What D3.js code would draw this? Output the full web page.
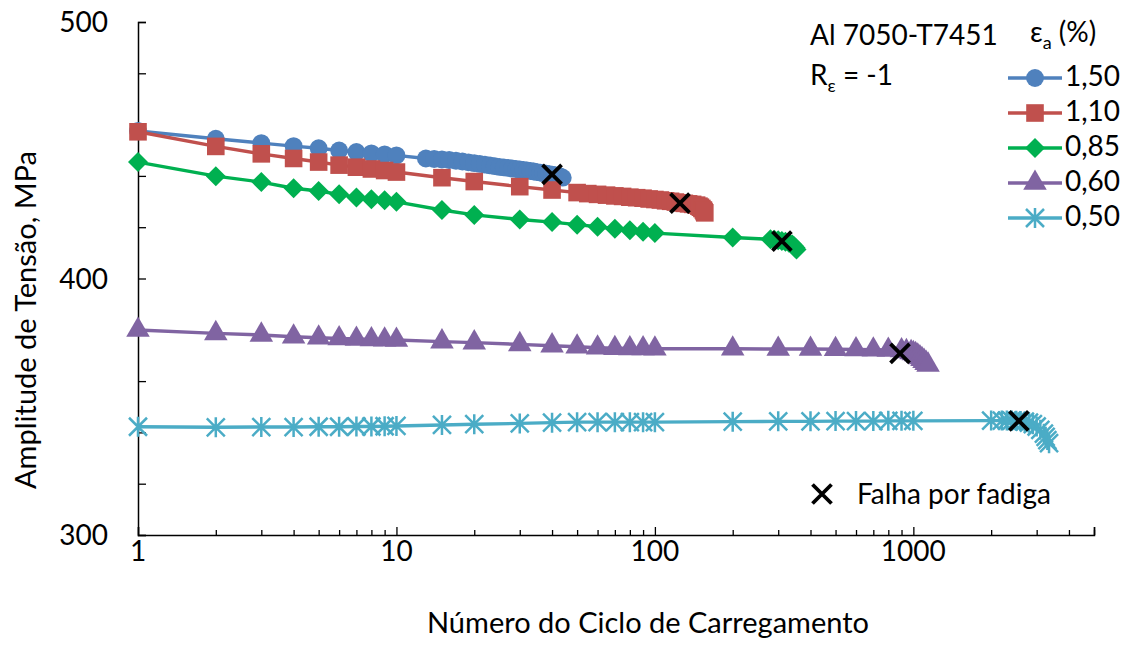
<!DOCTYPE html>
<html>
<head>
<meta charset="utf-8">
<script src="https://cdn.jsdelivr.net/npm/d3@7"></script>
<style>
  body { margin: 0; background: #fff; }
  svg text { font-family: Lato, "Open Sans", sans-serif; fill: #000; }
</style>
</head>
<body>
<svg id="chart" width="1130" height="646"></svg>
<script>
// data: [cycle, stress amplitude in MPa]
var seriesNames = ["1,50", "1,10", "0,85", "0,60", "0,50"];
var seriesColors = ["#4F81BD", "#C0504D", "#00B050", "#8064A2", "#4BACC6"];
var seriesShapes = ["circle", "square", "diamond", "triangle", "star"];

var s150 = [[1,457.5],[2,454.5],[3,452.8],[4,451.6],[5,450.8],[6,449.9],[7,449.3],[8,448.8],[9,448.4],[10,448.0],
  [13,446.8],[14,446.6],[15,446.4],[16,446.2],[17,445.9],[18,445.6],[19,445.3],[20,445.0],[21,444.7],[22,444.4],
  [23,444.1],[24,443.8],[25,443.5],[26,443.3],[27,443.1],[28,442.9],[29,442.7],[30,442.5],[31,442.3],[32,442.1],
  [33,441.9],[34,441.7],[35,441.5],[36,441.3],[37,441.1],[38,440.9],[39,440.7],[40,440.5],[41,440.3],[42,440.1],
  [43,439.8],[44,439.3]];
var s110 = [[1,457.2],[2,451.5],[3,448.6],[4,446.8],[5,445.4],[6,444.2],[7,443.4],[8,442.7],[9,442.1],[10,441.5],
  [15,439.3],[20,437.8],[30,435.8],[40,434.5],[50,433.5],[55,433.1],[60,432.8],[65,432.5],[70,432.2],[75,432.0],
  [80,431.7],[85,431.5],[90,431.3],[95,431.0],[100,430.8],[105,430.6],[110,430.3],[115,430.1],[120,429.8],[125,429.5],
  [130,429.3],[135,429.1],[140,428.9],[145,428.6],[148,428.2],[150,427.8],[152,427.3],[154,426.7],[155,426.1],[156,425.6]];
var s085 = [[1,445.4],[2,439.9],[3,437.6],[4,435.2],[5,434.1],[6,432.8],[7,431.6],[8,430.9],[9,430.5],[10,429.9],
  [15,426.7],[20,424.8],[30,423.0],[40,422.0],[50,421.0],[60,420.2],[70,419.4],[80,418.8],[90,418.2],[100,417.7],
  [200,416.0],[280,415.3],[290,415.1],[300,414.9],[310,414.6],[320,414.3],[330,413.9],[340,413.3],[345,412.7],
  [350,412.0],[353,411.3]];
var s060 = [[1,379.9],[2,378.6],[3,378.0],[4,377.3],[5,376.9],[6,376.6],[7,376.4],[8,376.2],[9,376.1],[10,376.0],
  [15,375.4],[20,375.0],[30,374.3],[40,373.8],[50,373.4],[60,373.0],[70,372.8],[80,372.7],[90,372.7],[100,372.6],
  [200,372.6],[300,372.5],[400,372.5],[500,372.4],[600,372.3],[700,372.2],[800,372.1],[900,371.9],[940,371.6],
  [980,371.2],[1000,370.8],[1020,370.4],[1040,369.8],[1060,369.2],[1080,368.5],[1100,367.8],[1120,367.0],[1140,366.3]];
var s050 = [[1,342.2],[2,342.0],[3,342.1],[4,342.1],[5,342.2],[6,342.2],[7,342.3],[8,342.3],[9,342.4],[10,342.5],
  [15,342.9],[20,343.2],[30,343.5],[40,343.8],[50,344.0],[60,344.0],[70,344.0],[80,344.0],[90,344.0],[100,344.0],
  [200,344.2],[300,344.3],[400,344.3],[500,344.4],[600,344.4],[700,344.4],[800,344.5],[900,344.5],[1000,344.5],
  [2000,344.6],[2200,344.6],[2300,344.6],[2400,344.6],[2500,344.5],[2600,344.4],[2700,344.2],[2800,343.8],
  [2900,343.2],[3000,342.3],[3100,341.0],[3200,339.5],[3250,338.3],[3300,337.0],[3350,335.8]];
var seriesData = [s150, s110, s085, s060, s050];

var failures = [[40,440.6],[125,429.4],[310,414.6],[888,370.8],[2560,344.5]];

var xTickValues = [1, 10, 100, 1000];
var yTickValues = [300, 400, 500];

var svg = d3.select("#chart");
var plotLeft = 138, plotRight = 1094, plotTop = 22, plotBottom = 535;

var x = d3.scaleLog().domain([1, 5000]).range([plotLeft, plotRight]);
var y = d3.scaleLinear().domain([300, 500]).range([plotBottom, plotTop]);

// axes
var minorX = [];
[1, 10, 100, 1000].forEach(function(d) { for (var k = 2; k <= 9; k++) if (d * k <= 5000) minorX.push(d * k); });

svg.append("g")
  .attr("transform", "translate(0," + plotBottom + ")")
  .call(d3.axisTop(x).tickValues(minorX).tickSize(5).tickFormat(""))
  .call(function(g) { g.select(".domain").remove(); g.selectAll("line").attr("stroke", "#000").attr("stroke-width", 1.3); });

svg.append("g")
  .attr("transform", "translate(0," + plotBottom + ")")
  .call(d3.axisTop(x).tickValues(xTickValues.concat([5000])).tickSize(8).tickFormat(""))
  .call(function(g) { g.select(".domain").attr("stroke", "#000").attr("stroke-width", 1.5); g.selectAll("line").attr("stroke", "#000").attr("stroke-width", 1.3); });

svg.append("g")
  .attr("transform", "translate(" + plotLeft + ",0)")
  .call(d3.axisRight(y).tickValues(d3.range(300, 501, 20)).tickSize(8).tickFormat(""))
  .call(function(g) { g.select(".domain").attr("stroke", "#000").attr("stroke-width", 1.5); g.selectAll("line").attr("stroke", "#000").attr("stroke-width", 1.3); });

svg.selectAll(".xlab").data(xTickValues).enter().append("text")
  .attr("x", function(d) { return x(d); })
  .attr("y", 561)
  .attr("text-anchor", "middle")
  .style("font-size", "28px")
  .text(function(d) { return d; });

svg.selectAll(".ylab").data(yTickValues).enter().append("text")
  .attr("x", 108)
  .attr("y", function(d) { return y(d) + 10; })
  .attr("text-anchor", "end")
  .style("font-size", "28px")
  .text(function(d) { return d; });

svg.append("text")
  .attr("x", 648).attr("y", 633)
  .attr("text-anchor", "middle")
  .style("font-size", "29px")
  .text("Número do Ciclo de Carregamento");

svg.append("text")
  .attr("transform", "translate(36,320) rotate(-90)")
  .attr("text-anchor", "middle")
  .style("font-size", "29px")
  .text("Amplitude de Tensão, MPa");

// markers
function markerPath(shape) {
  if (shape == "circle") return d3.symbol().type(d3.symbolCircle).size(250)();
  if (shape == "square") return d3.symbol().type(d3.symbolSquare).size(310)();
  if (shape == "diamond") return "M0,-10L10,0L0,10L-10,0Z";
  if (shape == "triangle") return d3.symbol().type(d3.symbolTriangle).size(240)();
  return "M0,-10V10M-9,-9L9,9M-9,9L9,-9";
}

function drawMarker(g, shape, color) {
  var p = g.append("path").attr("d", markerPath(shape));
  if (shape == "star") p.attr("fill", "none").attr("stroke", color).attr("stroke-width", 2.5);
  else p.attr("fill", color);
}

var line = d3.line().x(function(d) { return x(d[0]); }).y(function(d) { return y(d[1]); });

seriesData.forEach(function(data, i) {
  var g = svg.append("g");
  g.append("path").datum(data)
    .attr("d", line)
    .attr("fill", "none")
    .attr("stroke", seriesColors[i])
    .attr("stroke-width", 3.4)
    .attr("stroke-linejoin", "round");
  g.selectAll(".m").data(data).enter().append("g")
    .attr("transform", function(d) { return "translate(" + x(d[0]) + "," + y(d[1]) + ")"; })
    .each(function() { drawMarker(d3.select(this), seriesShapes[i], seriesColors[i]); });
});

// failure crosses
var cross = "M-9.5,-9.5L9.5,9.5M-9.5,9.5L9.5,-9.5";
svg.selectAll(".fail").data(failures).enter().append("path")
  .attr("transform", function(d) { return "translate(" + x(d[0]) + "," + y(d[1]) + ")"; })
  .attr("d", cross)
  .attr("stroke", "#000").attr("stroke-width", 3.8).attr("fill", "none");

// annotations
svg.append("text").attr("x", 810).attr("y", 45).style("font-size", "28px").text("Al 7050-T7451");
var rt = svg.append("text").attr("x", 810).attr("y", 85).style("font-size", "28px");
rt.append("tspan").text("R");
rt.append("tspan").attr("dy", 7).style("font-size", "18px").text("ε");
rt.append("tspan").attr("dy", -7).text(" = -1");

var et = svg.append("text").attr("x", 1030).attr("y", 42).style("font-size", "28px");
et.append("tspan").text("ε");
et.append("tspan").attr("dy", 7).style("font-size", "18px").text("a");
et.append("tspan").attr("dy", -7).text(" (%)");

// legend
var leg = svg.selectAll(".leg").data(seriesNames).enter().append("g")
  .attr("transform", function(d, i) { return "translate(1008," + (78 + i * 35) + ")"; });
leg.append("line").attr("x1", 0).attr("x2", 54).attr("y1", 0).attr("y2", 0)
  .attr("stroke", function(d, i) { return seriesColors[i]; }).attr("stroke-width", 3.4);
leg.append("g").attr("transform", "translate(27,0)")
  .each(function(d, i) { drawMarker(d3.select(this), seriesShapes[i], seriesColors[i]); });
leg.append("text").attr("x", 57).attr("y", 8).style("font-size", "28px").text(function(d) { return d; });

var fl = svg.append("g").attr("transform", "translate(822,494)");
fl.append("path").attr("d", cross).attr("stroke", "#000").attr("stroke-width", 3.8);
fl.append("text").attr("x", 35).attr("y", 10).style("font-size", "28px").text("Falha por fadiga");
</script>
</body>
</html>
